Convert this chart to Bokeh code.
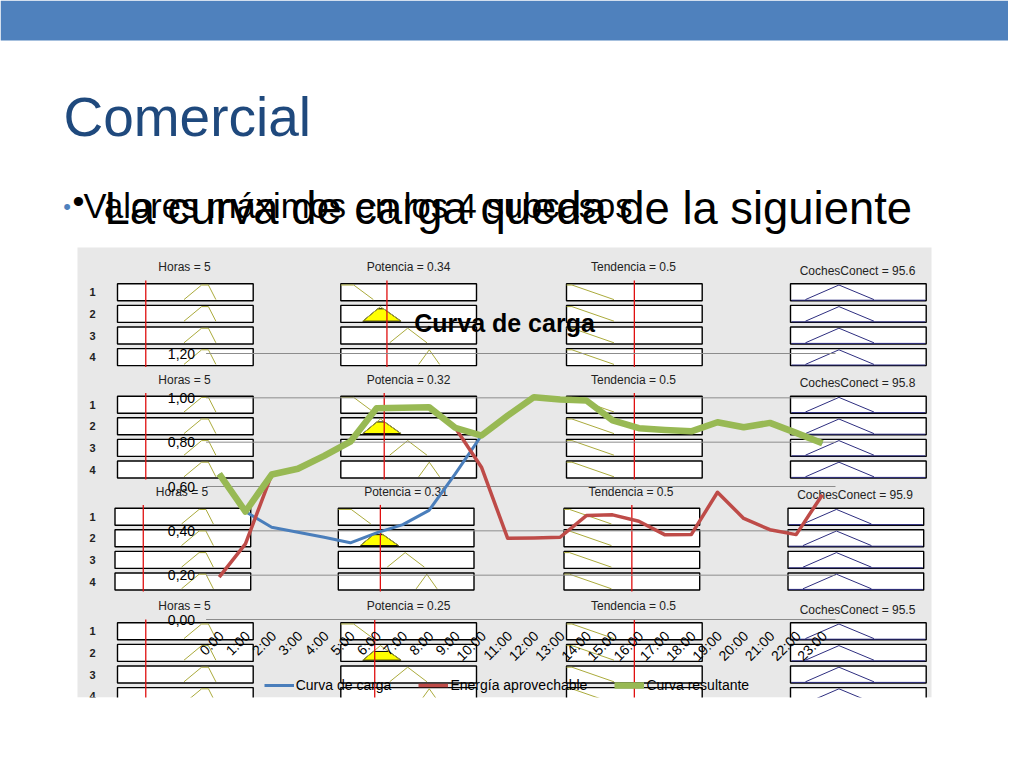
import math
from bokeh.plotting import figure
from bokeh.models import Range1d, Legend, LegendItem
from bokeh.core.properties import value
from bokeh.embed import file_html
from bokeh.resources import INLINE

# ---------------- chart data ----------------
horas = ["0:00", "1:00", "2:00", "3:00", "4:00", "5:00", "6:00", "7:00",
         "8:00", "9:00", "10:00", "11:00", "12:00", "13:00", "14:00", "15:00",
         "16:00", "17:00", "18:00", "19:00", "20:00", "21:00", "22:00", "23:00"]
curva_carga = [0.657, 0.487, 0.416, 0.394, 0.371, 0.346, 0.391, 0.428, 0.492, 0.657,
               0.830, 0.920, 1.003, 0.992, 0.988, 0.898, 0.863, 0.855, 0.849, 0.890,
               0.867, 0.887, 0.842, 0.795]
energia_aprovechable = [0.191, 0.341, 0.654, 0.680, 0.738, 0.802, 0.953, 0.955, 0.958, 0.865,
                        0.687, 0.366, 0.368, 0.371, 0.469, 0.472, 0.443, 0.382, 0.383, 0.574,
                        0.456, 0.405, 0.383, 0.563]
curva_resultante = [0.657, 0.487, 0.654, 0.680, 0.738, 0.802, 0.953, 0.955, 0.958, 0.865,
                    0.830, 0.920, 1.003, 0.992, 0.988, 0.898, 0.863, 0.855, 0.849, 0.890,
                    0.867, 0.887, 0.842, 0.795]
series_names = ["Curva de carga", "Energía aprovechable", "Curva resultante"]
y_ticks = [0.0, 0.2, 0.4, 0.6, 0.8, 1.0, 1.2]
y_tick_labels = ["0,00", "0,20", "0,40", "0,60", "0,80", "1,00", "1,20"]
chart_title = "Curva de carga"

# ---------------- slide text ----------------
slide_title = "Comercial"
bullet_1 = "Valores máximos en los 4 subcasos"
bullet_2 = "La curva de carga queda de la siguiente"

# ---------------- rule viewer (background picture) ----------------
rv_vars = ["Horas", "Potencia", "Tendencia", "CochesConect"]
rv_values = [[5, 0.34, 0.5, 95.6],
             [5, 0.32, 0.5, 95.8],
             [5, 0.31, 0.5, 95.9],
             [5, 0.25, 0.5, 95.5]]
rv_input_max = [24, 1, 1]
rv_fire = [0.85, 0.8, 0.75, 0.6]

# ---------------- layout (page pixels) ----------------
OFF = 0
PW, PH = 1008, 752
PLOT_L, PLOT_R, PLOT_T, PLOT_B = 205.6, 835.0, 353.0, 619.0
FONT = value("Liberation Sans")

n = len(horas)
x_per = (PLOT_R - PLOT_L) / n
x_lo = -0.5 - (PLOT_L - OFF) / x_per
x_hi = x_lo + PW / x_per
y_max = max(y_ticks)
y_per = (PLOT_B - PLOT_T) / y_max
y_hi = y_max + (PLOT_T - OFF) / y_per
y_lo = y_hi - PH / y_per

p = figure(width=PW, height=PH, x_range=Range1d(x_lo, x_hi), y_range=Range1d(y_lo, y_hi),
           output_backend="svg", toolbar_location=None, title=None,
           x_axis_location=None, y_axis_location=None, min_border=0,
           outline_line_color=None, background_fill_color="white", border_fill_color="white")
p.grid.visible = False
p.extra_x_ranges = {"px": Range1d(OFF, OFF + PW)}
p.extra_y_ranges = {"px": Range1d(OFF + PH, OFF)}
kw = dict(x_range_name="px", y_range_name="px")

# slide decoration
p.quad(left=[OFF], right=[OFF + PW], top=[OFF], bottom=[40], fill_color="#4F81BD", line_color=None, **kw)
p.text(x=[63], y=[116], text=[slide_title], text_font=FONT, text_font_size="55px",
       text_color="#1F497D", text_baseline="middle", **kw)
p.text(x=[66.5], y=[206], text=["•"], text_font=FONT, text_font_size="22px", text_color="#4F81BD",
       text_align="center", text_baseline="middle", **kw)
p.text(x=[83], y=[205], text=[bullet_1], text_font=FONT, text_font_size="34.6px",
       text_color="#000000", text_baseline="middle", **kw)
p.text(x=[78], y=[200], text=["•"], text_font=FONT, text_font_size="34px", text_color="#000000",
       text_align="center", text_baseline="middle", **kw)
p.text(x=[104], y=[207.5], text=[bullet_2], text_font=FONT, text_font_size="45.4px",
       text_color="#000000", text_baseline="middle", **kw)

# rule viewer
GL, GR, GT, GB = 77, 931, 247, 697
p.quad(left=[GL], right=[GR], top=[GT], bottom=[GB], fill_color="#E8E8E8", line_color=None, **kw)
group_tops = [283.3, 395.7, 507.7, 622.3]
group_dx = [0, 0, -2.5, 0]
col_left = [117.0, 340.3, 566.0, 790.0]
col_w = 135.7
pitch, box_h = 21.6, 17.0
title_cx = [184, 408, 633, 857]
title_dy = [-16.6, -16.6, -16.6, -13.3]
mf = {
    0: [[(0.49, 0), (0.62, 1), (0.67, 1), (0.725, 0)]] * 4,
    1: [[(0.0, 1), (0.095, 1), (0.24, 0)],
        [(0.162, 0), (0.292, 1), (0.444, 0)],
        [(0.36, 0), (0.493, 1), (0.635, 0)],
        [(0.574, 0), (0.652, 1), (0.728, 0)]],
    2: [[(0.0, 1), (0.04, 1), (0.35, 0)]] * 4,
    3: [[(0.11, 0), (0.357, 1), (0.615, 0)]] * 4,
}
bl, br, bt, bb = [], [], [], []
olive_xs, olive_ys, navy_xs, navy_ys = [], [], [], []
fill_xs, fill_ys = [], []
red_x0, red_y0, red_y1 = [], [], []
tx, ty, tt = [], [], []
nx, ny, nt = [], [], []
for g in range(4):
    for c in range(4):
        left = col_left[c] + group_dx[g]
        tx.append(title_cx[c] + group_dx[g]); ty.append(group_tops[g] + title_dy[c])
        tt.append(f"{rv_vars[c]} = {rv_values[g][c]:g}")
        for r in range(4):
            top = group_tops[g] + r * pitch
            bot = top + box_h
            bl.append(left); br.append(left + col_w); bt.append(top); bb.append(bot)
            fb = top + box_h - 1.2
            hh = box_h - 2.4
            pts = mf[c][r]
            xs = [left + u * col_w for u, h in pts]
            ys = [fb - h * hh for u, h in pts]
            if c == 3:
                navy_xs.append(xs); navy_ys.append(ys)
                navy_xs.append([left + 1, left + col_w - 1]); navy_ys.append([fb + 0.6, fb + 0.6])
            else:
                olive_xs.append(xs); olive_ys.append(ys)
            if c == 1 and r == 1:
                (u0, _), (u1, _), (u2, _) = pts
                f = rv_fire[g]
                fx = [u0, u0 + f * (u1 - u0), u2 - f * (u2 - u1), u2]
                fill_xs.append([left + u * col_w for u in fx])
                fill_ys.append([fb, fb - f * hh, fb - f * hh, fb])
            if c == 0:
                nx.append(GL + 15); ny.append(top + box_h / 2); nt.append(str(r + 1))
        if c < 3:
            red_x0.append(left + rv_values[g][c] / rv_input_max[c] * col_w)
            red_y0.append(group_tops[g] - 3.3)
            red_y1.append(group_tops[g] + 3 * pitch + box_h + 1.5)

p.quad(left=bl, right=br, top=bt, bottom=bb, fill_color="white", line_color="black", line_width=1.4, **kw)
p.patches(xs=fill_xs, ys=fill_ys, fill_color="#FFFF00", line_color="black", line_width=1, **kw)
p.multi_line(xs=olive_xs, ys=olive_ys, line_color="#ABAB3C", line_width=1, **kw)
p.multi_line(xs=navy_xs, ys=navy_ys, line_color="#2E2E80", line_width=1, **kw)
p.segment(x0=red_x0, x1=red_x0, y0=red_y0, y1=red_y1, line_color="#E01010", line_width=1.3, **kw)
p.text(x=tx, y=ty, text=tt, text_font=FONT, text_font_size="12px", text_color="#222222",
       text_align="center", text_baseline="middle", **kw)
p.text(x=nx, y=ny, text=nt, text_font=FONT, text_font_size="11px", text_color="#222222",
       text_font_style="bold", text_align="center", text_baseline="middle", **kw)
# the pasted picture ends at GB: hide what lies below it
p.quad(left=[GL - 5], right=[GR + 5], top=[GB], bottom=[GB + 20], fill_color="white", line_color=None, **kw)

# ---------------- chart ----------------
x_idx = list(range(n))
p.segment(x0=[-0.5] * len(y_ticks), x1=[n - 0.5] * len(y_ticks), y0=y_ticks, y1=y_ticks,
          line_color="#8C8C8C", line_width=1)
p.text(x=[-0.5] * len(y_ticks), y=y_ticks, text=y_tick_labels, x_offset=-11,
       text_font=FONT, text_font_size="14px", text_color="#000000",
       text_align="right", text_baseline="middle")
p.text(x=x_idx, y=[0] * n, text=horas, angle=math.pi / 4, x_offset=2, y_offset=14,
       text_font=FONT, text_font_size="14px", text_color="#000000",
       text_align="right", text_baseline="middle")
p.text(x=[504], y=[322], text=[chart_title], text_font=FONT, text_font_size="25px",
       text_font_style="bold", text_color="#000000", text_align="center",
       text_baseline="middle", **kw)

r_blue = p.line(x_idx, curva_carga, line_color="#4A7EBB", line_width=3, line_join="round")
r_red = p.line(x_idx, energia_aprovechable, line_color="#BE4B48", line_width=3.5, line_join="round")
r_green = p.line(x_idx, curva_resultante, line_color="#98B954", line_width=6.5, line_join="round")

legend = Legend(items=[LegendItem(label=series_names[0], renderers=[r_blue]),
                       LegendItem(label=series_names[1], renderers=[r_red]),
                       LegendItem(label=series_names[2], renderers=[r_green])],
                orientation="horizontal", location=(263.7 - OFF, PH + OFF - 693), padding=0, margin=0,
                spacing=27, glyph_width=30, glyph_height=16, label_standoff=2,
                label_text_font_size="14px", label_text_font="Liberation Sans",
                label_text_color="#000000", border_line_alpha=0, background_fill_alpha=0)
p.add_layout(legend)

open("out.html", "w").write(file_html(p, INLINE))
